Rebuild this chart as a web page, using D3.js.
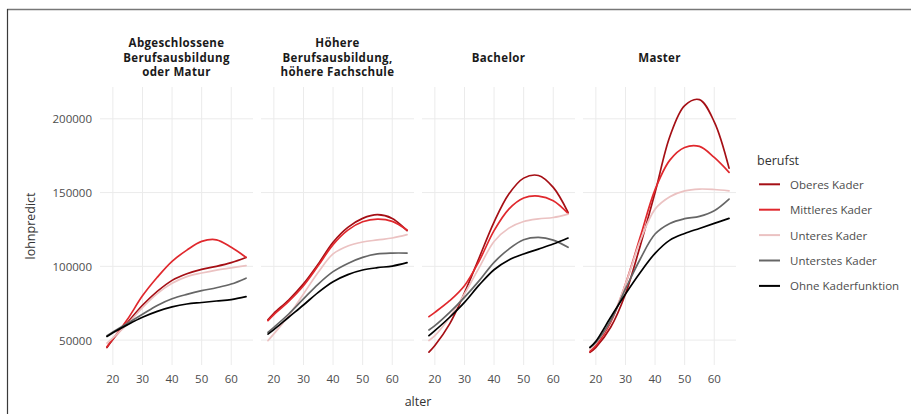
<!DOCTYPE html>
<html>
<head>
<meta charset="utf-8">
<script src="https://cdn.jsdelivr.net/npm/d3@7"></script>
<style>
  body { margin: 0; background: #fff; }
  svg { display: block; font-family: "Open Sans", "Noto Sans", sans-serif; }
</style>
</head>
<body>
<svg id="chart" width="911" height="414"></svg>
<script>
// Predicted wage (lohnpredict) by age (alter), per education level and job position (berufst)
const ages = [18, 20, 25, 30, 35, 40, 45, 50, 55, 60, 65];

const panelTitles = [
  ["Abgeschlossene", "Berufsausbildung", "oder Matur"],
  ["Höhere", "Berufsausbildung,", "höhere Fachschule"],
  ["Bachelor"],
  ["Master"]
];

const seriesNames = ["Oberes Kader", "Mittleres Kader", "Unteres Kader", "Unterstes Kader", "Ohne Kaderfunktion"];
const seriesColors = ["#a50f15", "#e0282d", "#ebc2c2", "#666666", "#000000"];

// one row per panel, values at each age
const oberesKader = [
  [45000, 50500, 62000, 73500, 83000, 90500, 95000, 98000, 100000, 102500, 106000],
  [63700, 68200, 77200, 88100, 101600, 116300, 126400, 132500, 135000, 132500, 124200],
  [41800, 46300, 61000, 82000, 106000, 130000, 149000, 159800, 161600, 153500, 136600],
  [41700, 45100, 58700, 81300, 114000, 150000, 188000, 209000, 213000, 198000, 166600]
];
const mittleresKader = [
  [45500, 50800, 64300, 80000, 92600, 103400, 111000, 116900, 118000, 112900, 106100],
  [63200, 67300, 76300, 86900, 100500, 114700, 124600, 130200, 132000, 130500, 124600],
  [65900, 68800, 76700, 86900, 103800, 124200, 138800, 146300, 147600, 144500, 135900],
  [42400, 46300, 62100, 88000, 120000, 152000, 172000, 180600, 181300, 173800, 163700]
];
const unteresKader = [
  [48000, 51500, 61000, 72000, 81500, 88500, 93000, 95500, 97500, 99000, 100500],
  [49700, 54200, 66600, 81300, 96000, 108400, 113800, 116500, 117900, 119200, 121500],
  [49700, 53000, 65500, 81300, 99300, 116900, 125900, 130400, 132200, 133100, 135400],
  [44000, 47900, 63200, 88000, 117400, 138800, 147200, 151200, 152400, 152100, 151200]
];
const unterstesKader = [
  [53000, 55500, 61500, 67500, 73500, 78000, 81000, 83500, 85500, 88000, 92000],
  [55300, 58700, 67700, 77900, 88000, 96400, 102000, 106100, 108400, 109000, 109000],
  [56900, 59800, 68800, 79000, 90300, 102700, 111700, 118000, 119600, 117800, 112900],
  [45100, 48500, 63200, 84700, 105000, 121900, 129100, 132300, 133900, 137700, 145600]
];
const ohneKaderfunktion = [
  [52500, 55000, 60500, 65500, 69500, 72500, 74500, 75500, 76500, 77500, 79500],
  [54100, 57100, 65500, 73800, 82400, 89600, 94400, 97500, 99100, 100200, 102500],
  [53000, 56400, 65500, 75600, 87400, 97700, 104300, 108400, 111700, 115100, 119200],
  [45100, 49200, 65500, 81300, 95900, 108800, 117800, 122300, 125700, 129100, 132500]
];

const xTicks = [20, 30, 40, 50, 60];
const yTicks = [50000, 100000, 150000, 200000];

const allSeries = [oberesKader, mittleresKader, unteresKader, unterstesKader, ohneKaderfunktion];

const svg = d3.select("#chart");

// frame edges
svg.append("line").attr("x1", 7).attr("x2", 911).attr("y1", 9.5).attr("y2", 9.5)
  .attr("stroke", "#777").attr("stroke-width", 1.5);
svg.append("line").attr("x1", 7.5).attr("x2", 7.5).attr("y1", 9).attr("y2", 414)
  .attr("stroke", "#3a3a3a").attr("stroke-width", 1.2);

const panelW = 153, panelGap = 8, panelLeft0 = 100;
const panelTop = 87, panelBottom = 365;

// shared y scale with 5% expansion around the data
const allVals = allSeries.flat(2);
const [vMin, vMax] = d3.extent(allVals);
const vPad = (vMax - vMin) * 0.05;
const y = d3.scaleLinear().domain([vMin - vPad, vMax + vPad]).range([panelBottom, panelTop]);

const aPad = (d3.max(ages) - d3.min(ages)) * 0.05;

const line = d3.line().curve(d3.curveCatmullRom.alpha(0.5));

panelTitles.forEach((title, p) => {
  const left = panelLeft0 + p * (panelW + panelGap);
  const x = d3.scaleLinear()
    .domain([d3.min(ages) - aPad, d3.max(ages) + aPad])
    .range([left, left + panelW]);
  const g = svg.append("g");

  // grid
  g.selectAll(".hg").data(yTicks).join("line")
    .attr("x1", left).attr("x2", left + panelW)
    .attr("y1", d => y(d)).attr("y2", d => y(d))
    .attr("stroke", "#ebebeb").attr("stroke-width", 1);
  g.selectAll(".vg").data(xTicks).join("line")
    .attr("x1", d => x(d)).attr("x2", d => x(d))
    .attr("y1", panelTop).attr("y2", panelBottom)
    .attr("stroke", "#ebebeb").attr("stroke-width", 1);

  // x tick labels
  g.selectAll(".xt").data(xTicks).join("text")
    .attr("x", d => x(d)).attr("y", 378.5)
    .attr("text-anchor", "middle").attr("dominant-baseline", "central")
    .attr("font-size", 11.5).attr("fill", "#4d4d4d")
    .text(d => d);

  // strip title
  const t = g.append("text")
    .attr("text-anchor", "middle")
    .attr("font-size", 11.5).attr("font-weight", 700).attr("fill", "#1a1a1a")
    .attr("letter-spacing", 0.35);
  const lh = 14.6;
  const midY = 57.3;
  title.forEach((ln, i) => {
    t.append("tspan")
      .attr("x", left + panelW / 2)
      .attr("y", midY + (i - (title.length - 1) / 2) * lh)
      .attr("dominant-baseline", "central")
      .text(ln);
  });

  // series lines
  allSeries.forEach((s, k) => {
    const pts = ages.map((a, i) => [x(a), y(s[p][i])]);
    g.append("path")
      .attr("d", line(pts))
      .attr("fill", "none")
      .attr("stroke", seriesColors[k])
      .attr("stroke-width", 1.7)
      .attr("stroke-linejoin", "round")
      .attr("stroke-linecap", "round");
  });
});

// y tick labels
svg.selectAll(".yt").data(yTicks).join("text")
  .attr("x", 92).attr("y", d => y(d))
  .attr("text-anchor", "end").attr("dominant-baseline", "central")
  .attr("font-size", 11.5).attr("fill", "#4d4d4d")
  .text(d => d);

// axis titles
svg.append("text")
  .attr("transform", `translate(30,${(panelTop + panelBottom) / 2}) rotate(-90)`)
  .attr("text-anchor", "middle").attr("dominant-baseline", "central")
  .attr("font-size", 12.5).attr("fill", "#333")
  .text("lohnpredict");
svg.append("text")
  .attr("x", (panelLeft0 + panelLeft0 + 4 * panelW + 3 * panelGap) / 2).attr("y", 401)
  .attr("text-anchor", "middle").attr("dominant-baseline", "central")
  .attr("font-size", 12.5).attr("fill", "#333")
  .text("alter");

// legend
const lg = svg.append("g");
lg.append("text").attr("x", 757).attr("y", 160.7)
  .attr("dominant-baseline", "central")
  .attr("font-size", 12.5).attr("fill", "#333").text("berufst");
seriesNames.forEach((name, k) => {
  const yy = 184.3 + k * 25.4;
  lg.append("line").attr("x1", 759).attr("x2", 780).attr("y1", yy).attr("y2", yy)
    .attr("stroke", seriesColors[k]).attr("stroke-width", 2);
  lg.append("text").attr("x", 790).attr("y", yy)
    .attr("dominant-baseline", "central")
    .attr("font-size", 11.5).attr("fill", "#4d4d4d").text(name);
});
</script>
</body>
</html>
